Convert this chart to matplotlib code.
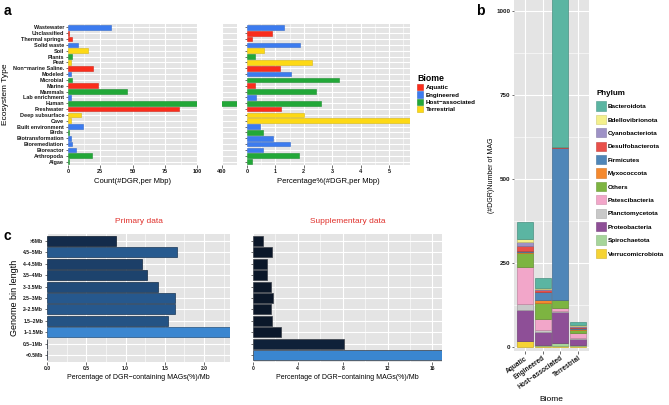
import matplotlib.pyplot as plt
import matplotlib.colors as mcolors
from matplotlib.patches import Patch
from matplotlib.ticker import MultipleLocator, FixedLocator
import numpy as np

plt.rcParams['font.family'] = ['Liberation Sans', 'DejaVu Sans']
plt.rcParams['font.weight'] = 'bold'

# ---- panel a data (top to bottom) ----
ecosystems = ['Wastewater', 'Unclassified', 'Thermal springs', 'Solid waste', 'Soil', 'Plants',
              'Peat', 'Non\u2212marine Saline.', 'Modeled', 'Microbial', 'Marine', 'Mammals',
              'Lab enrichment', 'Human', 'Freshwater', 'Deep subsurface', 'Cave',
              'Built environment', 'Birds', 'Biotransformation', 'Bioremediation', 'Bioreactor',
              'Arthropoda', 'Algae']
eco_biome = ['Engineered', 'Aquatic', 'Aquatic', 'Engineered', 'Terrestrial', 'Host-associated',
             'Terrestrial', 'Aquatic', 'Engineered', 'Host-associated', 'Aquatic', 'Host-associated',
             'Engineered', 'Host-associated', 'Aquatic', 'Terrestrial', 'Terrestrial',
             'Engineered', 'Host-associated', 'Engineered', 'Engineered', 'Engineered',
             'Host-associated', 'Host-associated']
eco_count = [33.2, 1.0, 2.9, 8.0, 15.8, 3.4, 2.0, 19.5, 2.6, 3.4, 23.6, 46.0,
             2.6, 415.0, 86.2, 9.9, 2.6, 12.0, 0.8, 2.6, 3.4, 6.2, 18.4, 0.5]
eco_pct = [1.29, 0.87, 0.18, 1.87, 0.60, 0.28, 2.28, 1.15, 1.55, 3.25, 0.27, 2.42,
           0.32, 2.60, 1.19, 1.99, 5.90, 0.45, 0.55, 0.90, 1.50, 0.55, 1.82, 0.18]

biomes = ['Aquatic', 'Engineered', 'Host-associated', 'Terrestrial']
biome_labels = ['Aquatic', 'Engineered', 'Host\u2212associated', 'Terrestrial']
biome_colors = {'Aquatic': '#FA2D1C', 'Engineered': '#3C7BEF',
                'Host-associated': '#22A838', 'Terrestrial': '#FDD915'}

# ---- panel b data (stack order bottom -> top) ----
phyla = ['Verrucomicrobiota', 'Spirochaetota', 'Proteobacteria', 'Planctomycetota',
         'Patescibacteria', 'Others', 'Myxococcota', 'Firmicutes', 'Desulfobacterota',
         'Cyanobacteriota', 'Bdellovibrionota', 'Bacteroidota']
phylum_colors = ['#F5D334', '#A6D59A', '#8E4F97', '#C8C8C8', '#F2A6C9', '#7DB441',
                 '#F5892E', '#4F86B8', '#E8504A', '#9E92C6', '#F4F08B', '#5BB5A2']
# columns: Aquatic, Engineered, Host-associated, Terrestrial
verrucomicrobiota = [18, 4, 2, 4]
spirochaetota = [1, 2, 9, 1]
proteobacteria = [90, 39, 93, 18]
planctomycetota = [18, 6, 2, 3]
patescibacteria = [111, 32, 11, 15]
others = [42, 49, 22, 11]
myxococcota = [4, 8, 2, 2]
firmicutes = [2, 25, 451, 3]
desulfobacterota = [16, 5, 3, 1]
cyanobacteriota = [11, 2, 0, 3]
bdellovibrionota = [8, 3, 0, 3]
bacteroidota = [51, 29, 505, 9]
stacks = [verrucomicrobiota, spirochaetota, proteobacteria, planctomycetota, patescibacteria,
          others, myxococcota, firmicutes, desulfobacterota, cyanobacteriota,
          bdellovibrionota, bacteroidota]

# ---- panel c data (top to bottom) ----
bins = ['>5Mb', '4.5~5Mb', '4~4.5Mb', '3.5~4Mb', '3~3.5Mb', '2.5~3Mb', '2~2.5Mb',
        '1.5~2Mb', '1~1.5Mb', '0.5~1Mb', '<0.5Mb']
primary = [0.875, 1.66, 1.21, 1.27, 1.41, 1.63, 1.63, 1.54, 2.40, 0, 0]
supplementary = [0.90, 1.73, 1.22, 1.25, 1.58, 1.79, 1.58, 1.67, 2.47, 8.12, 17.5]

W, H = 669, 405
fig = plt.figure(figsize=(W / 100, H / 100), dpi=100)


def box(x0, y0, x1, y1):
    return [x0 / W, 1 - y1 / H, (x1 - x0) / W, (y1 - y0) / H]


def darker(c, f=0.75):
    r, g, b = mcolors.to_rgb(c)
    return (r * f, g * f, b * f)


def gg(ax, lab=4):
    ax.set_facecolor('#E4E4E4')
    for s in ax.spines.values():
        s.set_visible(False)
    ax.set_axisbelow(True)
    ax.grid(True, which='major', color='white', lw=0.8)
    ax.grid(True, which='minor', color='white', lw=0.4)
    ax.tick_params(which='major', length=1.8, width=0.5, color='#333333', pad=1,
                   labelsize=lab, labelcolor='#1a1a1a')
    ax.tick_params(which='minor', length=0)


# ================= panel a =================
n = len(ecosystems)
ypos = np.arange(n)[::-1]
cols = [biome_colors[b] for b in eco_biome]
edges = [darker(c, 0.85) for c in cols]

a1 = fig.add_axes(box(68, 24, 197, 165))
gg(a1)
a1.barh(ypos, eco_count, height=0.8, color=cols, edgecolor=edges, lw=0.4)
a1.set_xlim(0, 100)
a1.set_ylim(-0.6, n - 0.4)
a1.xaxis.set_major_locator(FixedLocator([0, 25, 50, 75, 100]))
a1.xaxis.set_minor_locator(MultipleLocator(12.5))
a1.set_yticks(ypos)
a1.set_yticklabels(ecosystems, fontsize=4)
a1.set_xlabel('Count(#DGR,per Mbp)', fontsize=5.5, labelpad=3)
a1.set_ylabel('Ecosystem Type', fontsize=6, labelpad=3)

ab = fig.add_axes(box(222, 24, 237, 165))
gg(ab)
ab.barh(ypos, eco_count, height=0.8, color=cols, edgecolor=edges, lw=0.4)
ab.set_xlim(400, 412)
ab.set_ylim(-0.6, n - 0.4)
ab.set_xticks([400])
ab.set_yticks(ypos)
ab.tick_params(axis='y', length=0, labelleft=False)

a2 = fig.add_axes(box(247, 24, 410, 165))
gg(a2)
a2.barh(ypos, eco_pct, height=0.8, color=cols, edgecolor=edges, lw=0.4)
a2.set_xlim(0, 5.74)
a2.set_ylim(-0.6, n - 0.4)
a2.xaxis.set_major_locator(MultipleLocator(1))
a2.xaxis.set_minor_locator(MultipleLocator(0.5))
a2.set_yticks(ypos)
a2.tick_params(axis='y', labelleft=False)
a2.set_xlabel('Percentage%(#DGR,per Mbp)', fontsize=5.5, labelpad=3)

h_biome = [Patch(facecolor=biome_colors[b], edgecolor=darker(biome_colors[b], 0.85), lw=0.4)
           for b in biomes]
lg1 = fig.legend(h_biome, biome_labels, loc='upper left', bbox_to_anchor=(416 / W, 1 - 73 / H),
                 frameon=False, fontsize=4.5, title='Biome', title_fontsize=6.3,
                 handlelength=1.0, handleheight=1.15, labelspacing=0.15, handletextpad=0.4,
                 alignment='left', borderaxespad=0, borderpad=0.2)
lg1.get_title().set_fontweight('bold')

fig.text(4 / W, 1 - 11 / H, 'a', fontsize=10, fontweight='bold', va='center')

# ================= panel b =================
bx = np.arange(1, len(biomes) + 1)
b_ax = fig.add_axes(box(514, 0, 589, 351))
gg(b_ax, lab=4.5)
bottom = np.zeros(len(biomes))
for vals, c in zip(stacks, phylum_colors):
    v = np.array(vals, dtype=float)
    b_ax.bar(bx, v, bottom=bottom, width=0.9, color=c, edgecolor=darker(c, 0.8), lw=0.5)
    bottom += v
b_ax.set_xlim(0.4, 4.6)
b_ax.set_ylim(-12, 1033)
b_ax.yaxis.set_major_locator(FixedLocator([0, 250, 500, 750, 1000]))
b_ax.yaxis.set_minor_locator(MultipleLocator(125))
b_ax.set_xticks(bx)
b_ax.set_xticklabels(biome_labels, rotation=35, ha='right', rotation_mode='anchor', fontsize=4.8)
b_ax.set_xlabel('Biome', fontsize=6)
b_ax.xaxis.set_label_coords(0.5, -0.128)
b_ax.set_ylabel('(#DGR)Number of MAG', fontsize=5, labelpad=1)

h_phy = [Patch(facecolor=c, edgecolor=darker(c, 0.85), lw=0.4) for c in phylum_colors][::-1]
lg2 = fig.legend(h_phy, phyla[::-1], loc='upper left', bbox_to_anchor=(595 / W, 1 - 89 / H),
                 frameon=False, fontsize=4.6, title='Phylum', title_fontsize=5.8,
                 handlelength=1.5, handleheight=1.85, labelspacing=0.65, handletextpad=0.35,
                 alignment='left', borderaxespad=0, borderpad=0.2)
lg2.get_title().set_fontweight('bold')

fig.text(476 / W, 1 - 11 / H, 'b', fontsize=10, fontweight='bold', va='center')

# ================= panel c =================
m = len(bins)
cy = np.arange(m)[::-1]
cmap = mcolors.LinearSegmentedColormap.from_list('gg', ['#0B1729', '#132B4A', '#3A86D0'])

c1 = fig.add_axes(box(47, 234, 230, 362))
gg(c1, lab=3.6)
pn = mcolors.Normalize(min(v for v in primary if v > 0), max(primary))
pcol = [cmap(0.5 + 0.5 * pn(v)) for v in primary]
c1.barh(cy, primary, height=0.88, color=pcol, edgecolor=[darker(c, 0.6) for c in pcol], lw=0.5)
c1.set_xlim(0, 2.33)
c1.set_ylim(-0.6, m - 0.4)
c1.xaxis.set_major_locator(MultipleLocator(0.5))
c1.xaxis.set_minor_locator(MultipleLocator(0.25))
c1.xaxis.set_major_formatter(lambda v, p: f'{v:.1f}')
c1.set_yticks(cy)
c1.set_yticklabels(bins)
c1.set_xlabel('Percentage of DGR\u2212containing MAGs(%)/Mb', fontsize=5, labelpad=2)
c1.set_ylabel('Genome bin length', fontsize=6.5, labelpad=3)
c1.set_title('Primary data', fontsize=6, color='#E0302B', fontweight='normal', pad=8)

c2 = fig.add_axes(box(253, 234, 442, 362))
gg(c2, lab=3.6)
sn = mcolors.PowerNorm(1.8, min(supplementary), 16.8)
scol = [cmap(min(sn(v), 1.0)) for v in supplementary]
c2.barh(cy, supplementary, height=0.88, color=scol, edgecolor='#3a3f47', lw=0.5)
c2.set_xlim(0, 16.85)
c2.set_ylim(-0.6, m - 0.4)
c2.xaxis.set_major_locator(MultipleLocator(4))
c2.xaxis.set_minor_locator(MultipleLocator(2))
c2.set_yticks(cy)
c2.tick_params(axis='y', labelleft=False)
c2.set_xlabel('Percentage of DGR\u2212containing MAGs(%)/Mb', fontsize=5, labelpad=2)
c2.set_title('Supplementary data', fontsize=6, color='#E0302B', fontweight='normal', pad=8)

fig.text(4 / W, 1 - 236 / H, 'c', fontsize=10, fontweight='bold', va='center')

fig.savefig('out.png', dpi=100)
